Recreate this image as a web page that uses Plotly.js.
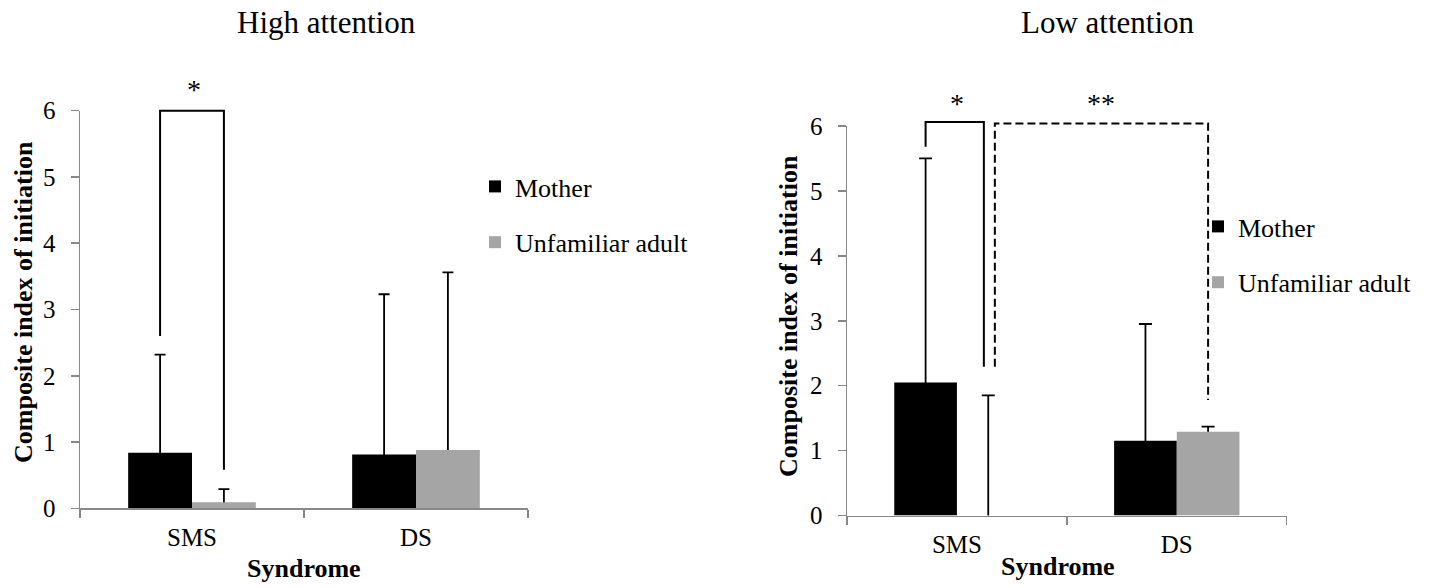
<!DOCTYPE html>
<html>
<head>
<meta charset="utf-8">
<script src="https://cdn.plot.ly/plotly-3.0.1.min.js"></script>
<style>
  html, body { margin: 0; padding: 0; background: #fff; }
  #chart { width: 1429px; height: 588px; }
</style>
</head>
<body>
<div id="chart"></div>
<script>
// ---------------- data ----------------
var categories = ['SMS', 'DS'];
var seriesNames = ['Mother', 'Unfamiliar adult'];
var panelTitles = ['High attention', 'Low attention'];

var highMother = [0.84, 0.81];
var highMotherErr = [1.48, 2.42];
var highUnfamiliar = [0.09, 0.88];
var highUnfamiliarErr = [0.20, 2.68];

var lowMother = [2.05, 1.15];
var lowMotherErr = [3.45, 1.80];
var lowUnfamiliar = [0.00, 1.29];
var lowUnfamiliarErr = [1.85, 0.08];

var yTickVals = [0, 1, 2, 3, 4, 5, 6];
var yTitle = 'Composite index of initiation';
var xTitle = 'Syndrome';

// ---------------- layout geometry ----------------
var W = 1429, H = 588;
var FONT = 'Liberation Serif, Tinos, Times New Roman, DejaVu Serif, serif';
var BLACK = '#000000', GRAY = '#A5A5A5', AXIS = '#888888';
var SHOE_HIDE = 0.04; // pushes the lower error-bar cap inside the bar so the bar covers it

var dom = {
  x:  [80 / W, 528 / W],
  y:  [(H - 508.3) / H, (H - 110.7) / H],
  x2: [847 / W, 1286.7 / W],
  y2: [(H - 515.5) / H, (H - 126) / H]
};
var xRange = [-0.5, 1.5], yRange = [0, 6];
var BARGAP = 0.43;
var off = (1 - BARGAP) / 4; // half-bar offset in category units

function px(d, r, v) { return d[0] + (v - r[0]) / (r[1] - r[0]) * (d[1] - d[0]); }

function barTrace(xa, ya, y, name, color, legend, og) {
  return {
    type: 'bar', x: categories, y: y, name: name, xaxis: xa, yaxis: ya,
    marker: { color: color, line: { width: 0 } }, offsetgroup: og,
    legend: legend, legendgroup: og + xa, hoverinfo: 'skip'
  };
}
function errTrace(xa, ya, y, err, og, capw) {
  return {
    type: 'bar', x: categories, y: y, xaxis: xa, yaxis: ya, showlegend: false,
    marker: { color: 'rgba(0,0,0,0)', line: { width: 0 } }, offsetgroup: og,
    error_y: { type: 'data', symmetric: false, array: err,
               arrayminus: err.map(function () { return SHOE_HIDE; }),
               color: BLACK, thickness: 1.8, width: capw },
    hoverinfo: 'skip'
  };
}

var data = [
  errTrace('x', 'y', highMother, highMotherErr, 'm', 5.5),
  errTrace('x', 'y', highUnfamiliar, highUnfamiliarErr, 'u', 5.5),
  barTrace('x', 'y', highMother, seriesNames[0], BLACK, 'legend', 'm'),
  barTrace('x', 'y', highUnfamiliar, seriesNames[1], GRAY, 'legend', 'u'),
  errTrace('x2', 'y2', lowMother, lowMotherErr, 'm', 6.5),
  errTrace('x2', 'y2', lowUnfamiliar, lowUnfamiliarErr, 'u', 6.5),
  barTrace('x2', 'y2', lowMother, seriesNames[0], BLACK, 'legend2', 'm'),
  barTrace('x2', 'y2', lowUnfamiliar, seriesNames[1], GRAY, 'legend2', 'u')
];

function xAxis(d, anchor) {
  return {
    domain: d, anchor: anchor, type: 'category', range: xRange,
    tickson: 'boundaries', ticks: 'outside', ticklen: 8, tickwidth: 1.5, tickcolor: AXIS,
    showline: true, linecolor: AXIS, linewidth: 1.5, showgrid: false, zeroline: false,
    tickfont: { family: FONT, size: 25, color: BLACK }, ticklabelstandoff: 6,
    fixedrange: true
  };
}
function yAxis(d, anchor) {
  return {
    domain: d, anchor: anchor, range: yRange, tickvals: yTickVals,
    ticks: 'outside', ticklen: 8, tickwidth: 1.5, tickcolor: AXIS,
    showline: true, linecolor: AXIS, linewidth: 1.5, showgrid: false, zeroline: false,
    tickfont: { family: FONT, size: 25, color: BLACK }, ticklabelstandoff: 10,
    fixedrange: true
  };
}

// significance brackets: [panel, xLeft(cat units), yLeftBottom, xRight, yRightBottom, yTop, dashed]
var brackets = [
  ['L', 0 - off, 2.60, 0 + off, 0.58, 6.00, false],
  ['R', 0 - off, 5.68, 0 + off - 0.02, 2.29, 6.06, false],
  ['R', 0 + off + 0.03, 2.29, 1 + off, 1.78, 6.04, true]
];
var shapes = brackets.map(function (b) {
  var dx = b[0] === 'L' ? dom.x : dom.x2, dy = b[0] === 'L' ? dom.y : dom.y2;
  var x1 = px(dx, xRange, b[1]), x2 = px(dx, xRange, b[3]);
  var y1 = px(dy, yRange, b[2]), y2 = px(dy, yRange, b[4]), yt = px(dy, yRange, b[5]);
  return {
    type: 'path', xref: 'paper', yref: 'paper', layer: 'above',
    path: 'M' + x1 + ',' + y1 + ' L' + x1 + ',' + yt + ' L' + x2 + ',' + yt + ' L' + x2 + ',' + y2,
    line: { color: BLACK, width: 2, dash: b[6] ? '8px,4px' : 'solid' }
  };
});

// star labels: [panel, x(cat units), text]
var stars = [['L', 0.01, '*'], ['R', 0.0, '*'], ['R', 0.655, '**']];
var annotations = stars.map(function (s) {
  var dx = s[0] === 'L' ? dom.x : dom.x2;
  return {
    xref: 'paper', yref: 'paper', x: px(dx, xRange, s[1]),
    y: s[0] === 'L' ? (H - 90) / H : (H - 104) / H,
    text: s[2], showarrow: false, xanchor: 'center', yanchor: 'middle',
    font: { family: FONT, size: 28, color: BLACK }
  };
});

annotations.push(
  { xref: 'paper', yref: 'paper', x: 326 / W, y: (H - 22) / H, text: panelTitles[0], showarrow: false,
    xanchor: 'center', yanchor: 'middle', font: { family: FONT, size: 31, color: BLACK } },
  { xref: 'paper', yref: 'paper', x: 1108 / W, y: (H - 22) / H, text: panelTitles[1], showarrow: false,
    xanchor: 'center', yanchor: 'middle', font: { family: FONT, size: 31, color: BLACK } },
  { xref: 'paper', yref: 'paper', x: 304 / W, y: (H - 568) / H, text: '<b>' + xTitle + '</b>', showarrow: false,
    xanchor: 'center', yanchor: 'middle', font: { family: FONT, size: 26, color: BLACK } },
  { xref: 'paper', yref: 'paper', x: 1058 / W, y: (H - 566) / H, text: '<b>' + xTitle + '</b>', showarrow: false,
    xanchor: 'center', yanchor: 'middle', font: { family: FONT, size: 26, color: BLACK } },
  { xref: 'paper', yref: 'paper', x: 23 / W, y: (H - 302) / H, text: '<b>' + yTitle + '</b>', showarrow: false,
    textangle: -90, xanchor: 'center', yanchor: 'middle', font: { family: FONT, size: 26, color: BLACK } },
  { xref: 'paper', yref: 'paper', x: 789 / W, y: (H - 316) / H, text: '<b>' + yTitle + '</b>', showarrow: false,
    textangle: -90, xanchor: 'center', yanchor: 'middle', font: { family: FONT, size: 26, color: BLACK } }
);

function legendCfg(x, yTop) {
  return {
    x: x, y: yTop, xanchor: 'left', yanchor: 'top', bgcolor: 'rgba(0,0,0,0)',
    borderwidth: 0, traceorder: 'grouped', tracegroupgap: 19,
    font: { family: FONT, size: 26, color: BLACK }, itemclick: false, itemdoubleclick: false
  };
}

var layout = {
  width: W, height: H,
  font: { family: FONT },
  margin: { l: 0, r: 0, t: 0, b: 0 },
  paper_bgcolor: '#ffffff', plot_bgcolor: 'rgba(0,0,0,0)',
  showlegend: true,
  barmode: 'group', bargap: BARGAP, bargroupgap: 0,
  xaxis: xAxis(dom.x, 'y'), yaxis: yAxis(dom.y, 'x'),
  xaxis2: xAxis(dom.x2, 'y2'), yaxis2: yAxis(dom.y2, 'x2'),
  legend: legendCfg(475 / W, (H - 163) / H),
  legend2: legendCfg(1198 / W, (H - 203) / H),
  shapes: shapes,
  annotations: annotations
};

Plotly.newPlot('chart', data, layout, { staticPlot: true, displayModeBar: false });
</script>
</body>
</html>
